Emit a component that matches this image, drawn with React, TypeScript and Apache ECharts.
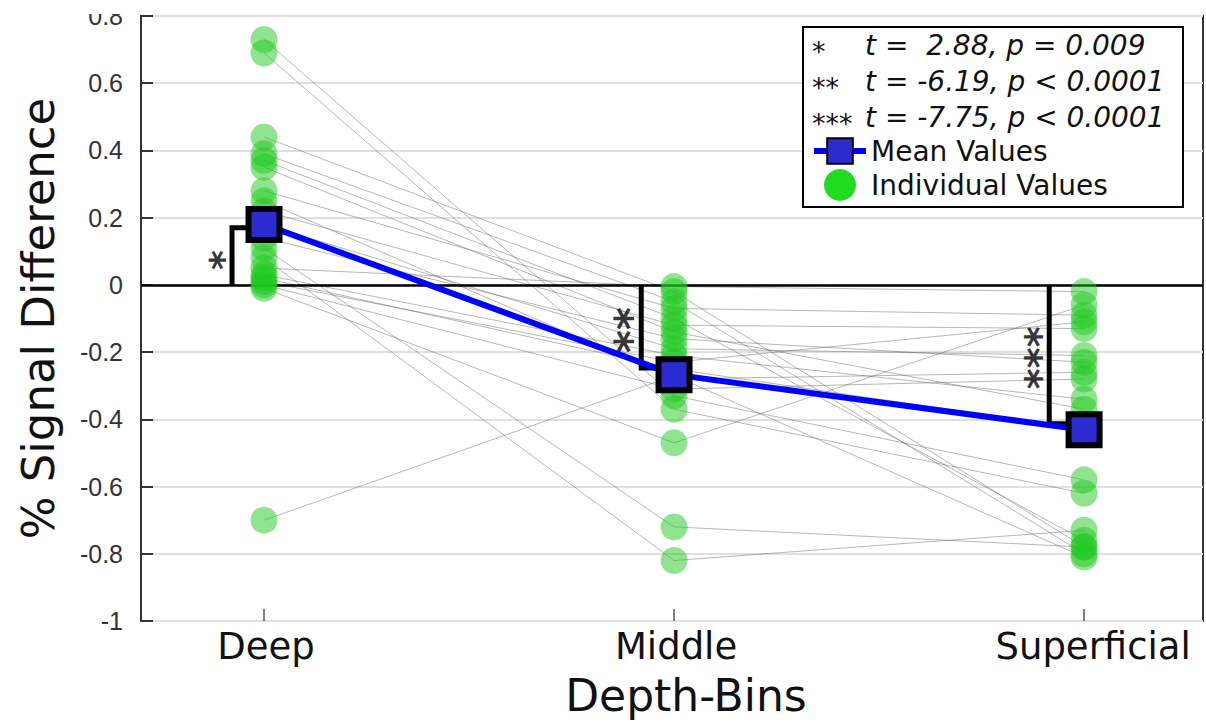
import React, { useEffect, useRef } from "react";
import * as echarts from "echarts";

const xCategories = ["Deep", "Middle", "Superficial"];
const xPositions = [1, 2, 3];

const deepValues = [0.73, 0.69, 0.44, 0.39, 0.37, 0.35, 0.28, 0.25, 0.22, 0.18, 0.14, 0.11, 0.08, 0.05, 0.03, 0.02, 0.01, 0.0, -0.01, -0.7];
const middleValues = [-0.33, -0.37, -0.02, -0.05, -0.1, -0.14, -0.07, -0.28, -0.12, -0.19, -0.16, -0.72, -0.82, -0.005, -0.21, -0.25, -0.23, -0.31, -0.47, -0.27];
const superficialValues = [-0.58, -0.62, -0.78, -0.8, -0.76, -0.37, -0.09, -0.26, -0.13, -0.21, -0.23, -0.78, -0.73, -0.02, -0.34, -0.43, -0.11, -0.28, -0.06, -0.81];

const meanValues = [0.18, -0.267, -0.431];

// significance brackets: [x of vertical bar, y of horizontal arm]
const bracketX = [0.922, 1.92, 2.915];
const bracketY = [0.17, -0.247, -0.413];
// asterisk groups (stacked vertically): x, y (centre), text, font size
const starX = [0.9, 1.895, 2.893];
const starY = [0.074, -0.134, -0.217];
const starLabels = ["*", "**", "***"];
const starSizes = [38, 44, 40];

const statStars = ["*", "**", "***"];
const statTexts = ["t =  2.88, p = 0.009", "t = -6.19, p < 0.0001", "t = -7.75, p < 0.0001"];

const yMin = -1;
const yMax = 0.8;
const yInterval = 0.2;

const FONT = "DejaVu Sans";

function buildOption(): any {
  const subjectSeries = deepValues.map((d, i) => ({
    type: "line",
    name: "Subject " + (i + 1),
    data: [
      [xPositions[0], d],
      [xPositions[1], middleValues[i]],
      [xPositions[2], superficialValues[i]],
    ],
    symbol: "none",
    silent: true,
    z: 1,
    lineStyle: { width: 0.8, color: "rgba(90,90,90,0.55)" },
    ...(i === 0
      ? {
          markLine: {
            silent: true,
            symbol: ["none", "none"],
            label: { show: false },
            lineStyle: { color: "#000", width: 2.5, type: "solid" },
            data: [{ yAxis: 0 }],
            z: 2,
          },
        }
      : {}),
  }));

  const individualData: number[][] = [];
  deepValues.forEach((v) => individualData.push([xPositions[0], v]));
  middleValues.forEach((v) => individualData.push([xPositions[1], v]));
  superficialValues.forEach((v) => individualData.push([xPositions[2], v]));

  const bracketSeries = bracketX.map((bx, i) => ({
    type: "line",
    name: "Bracket " + (i + 1),
    data: [
      [bx, 0],
      [bx, bracketY[i]],
      [xPositions[i], bracketY[i]],
    ],
    symbol: "none",
    silent: true,
    z: 3,
    lineStyle: { width: 5, color: "#000", join: "miter", cap: "butt" },
  }));

  const starData = starX.map((x, i) => ({
    value: [x, starY[i]],
    label: { fontSize: starSizes[i] },
  }));

  return {
    animation: false,
    backgroundColor: "#fff",
    grid: {
      left: 141,
      right: 3,
      top: 16,
      bottom: 103,
      show: true,
      borderColor: "#333",
      borderWidth: 2,
    },
    xAxis: {
      type: "value",
      min: 0.7,
      max: 3.29,
      axisLine: { show: false, onZero: false },
      splitLine: { show: false },
      axisTick: {
        show: true,
        customValues: xPositions,
        inside: true,
        length: 12,
        lineStyle: { color: "#555", width: 1.5 },
      },
      axisLabel: {
        customValues: xPositions,
        formatter: (v: number) => {
          const i = xPositions.indexOf(v);
          if (i < 0) return "";
          return i === 2 ? "{s|" + xCategories[i] + "}" : "{n|" + xCategories[i] + "}";
        },
        fontSize: 37,
        fontFamily: FONT,
        color: "#111",
        margin: 7,
        rich: {
          n: { fontSize: 37, fontFamily: FONT, color: "#111", padding: [0, 0, 0, 4] },
          s: { fontSize: 37, fontFamily: FONT, color: "#111", padding: [0, 0, 0, 18] },
        },
      },
      name: "Depth-Bins",
      nameLocation: "middle",
      nameGap: 52,
      nameTextStyle: { fontSize: 44, fontFamily: FONT, color: "#111", padding: [0, 0, 0, 28] },
    },
    yAxis: {
      type: "value",
      min: yMin,
      max: yMax,
      interval: yInterval,
      axisLine: { show: true, onZero: false, lineStyle: { color: "#333", width: 2 } },
      axisTick: { show: true, inside: true, length: 12, lineStyle: { color: "#333", width: 2 } },
      axisLabel: {
        fontSize: 25,
        fontFamily: "Liberation Sans",
        color: "#333",
        margin: 18,
        formatter: (v: number) => String(Number(v.toFixed(1)) + 0),
      },
      splitLine: { show: true, lineStyle: { color: "#e0e0e0", width: 2 } },
      name: "% Signal Difference",
      nameLocation: "middle",
      nameGap: 80,
      nameTextStyle: { fontSize: 45, fontFamily: FONT, color: "#111" },
    },
    legend: {
      data: [
        { name: "Mean Values", lineStyle: { width: 6, color: "#0000ff" } },
        { name: "Individual Values", itemStyle: { color: "#1fdc1f", opacity: 1 } },
      ],
      orient: "vertical",
      left: 806,
      top: 132,
      itemWidth: 52,
      itemHeight: 32,
      itemGap: 4,
      selectedMode: false,
      textStyle: { fontSize: 28, fontFamily: FONT, color: "#111" },
      z: 10,
    },
    graphic: [
      {
        type: "rect",
        shape: { x: 803, y: 27, width: 380, height: 180 },
        style: { fill: "#fff", stroke: "#000", lineWidth: 2 },
        z: 5,
      },
      ...statStars.map((s, i) => ({
        type: "text",
        x: 812,
        y: 45 + i * 36 + 6,
        z: 6,
        style: { text: s, fontSize: 27, fontFamily: FONT, fill: "#111", verticalAlign: "middle", align: "left" },
      })),
      ...statTexts.map((t, i) => ({
        type: "text",
        x: 865,
        y: 45 + i * 36,
        z: 6,
        style: {
          text: t,
          fontSize: 28,
          fontStyle: "italic",
          fontFamily: FONT,
          fill: "#111",
          verticalAlign: "middle",
          align: "left",
        },
      })),
      {
        type: "rect",
        shape: { x: 0, y: 0, width: 138, height: 14 },
        style: { fill: "#fff" },
        z: 20,
      },
    ],
    series: [
      ...subjectSeries,
      {
        type: "scatter",
        name: "Individual Values",
        data: individualData,
        symbol: "circle",
        symbolSize: 27,
        z: 2,
        itemStyle: { color: "rgba(30,200,30,0.62)" },
      },
      ...bracketSeries,
      {
        type: "scatter",
        name: "Significance",
        data: starData,
        symbolSize: 1,
        silent: true,
        z: 3,
        itemStyle: { color: "transparent" },
        label: {
          show: true,
          position: "inside",
          formatter: (p: any) => starLabels[p.dataIndex],
          rotate: 90,
          fontSize: 40,
          fontWeight: "bold",
          fontFamily: FONT,
          color: "#000",
        },
      },
      {
        type: "line",
        name: "Mean Values",
        data: xPositions.map((x, i) => [x, meanValues[i]]),
        symbol: "rect",
        symbolSize: 31,
        z: 4,
        lineStyle: { color: "#0000ff", width: 6 },
        itemStyle: { color: "#2b2bd0", borderColor: "#000", borderWidth: 6 },
      },
    ],
  };
}

export default function App() {
  const ref = useRef<HTMLDivElement>(null);
  useEffect(() => {
    if (!ref.current) return;
    const chart = echarts.init(ref.current, null, { renderer: "svg" });
    chart.setOption(buildOption());
    return () => chart.dispose();
  }, []);
  return (
    <div
      ref={ref}
      style={{ position: "fixed", left: 0, top: 0, width: 1206, height: 724, background: "#fff" }}
    />
  );
}
